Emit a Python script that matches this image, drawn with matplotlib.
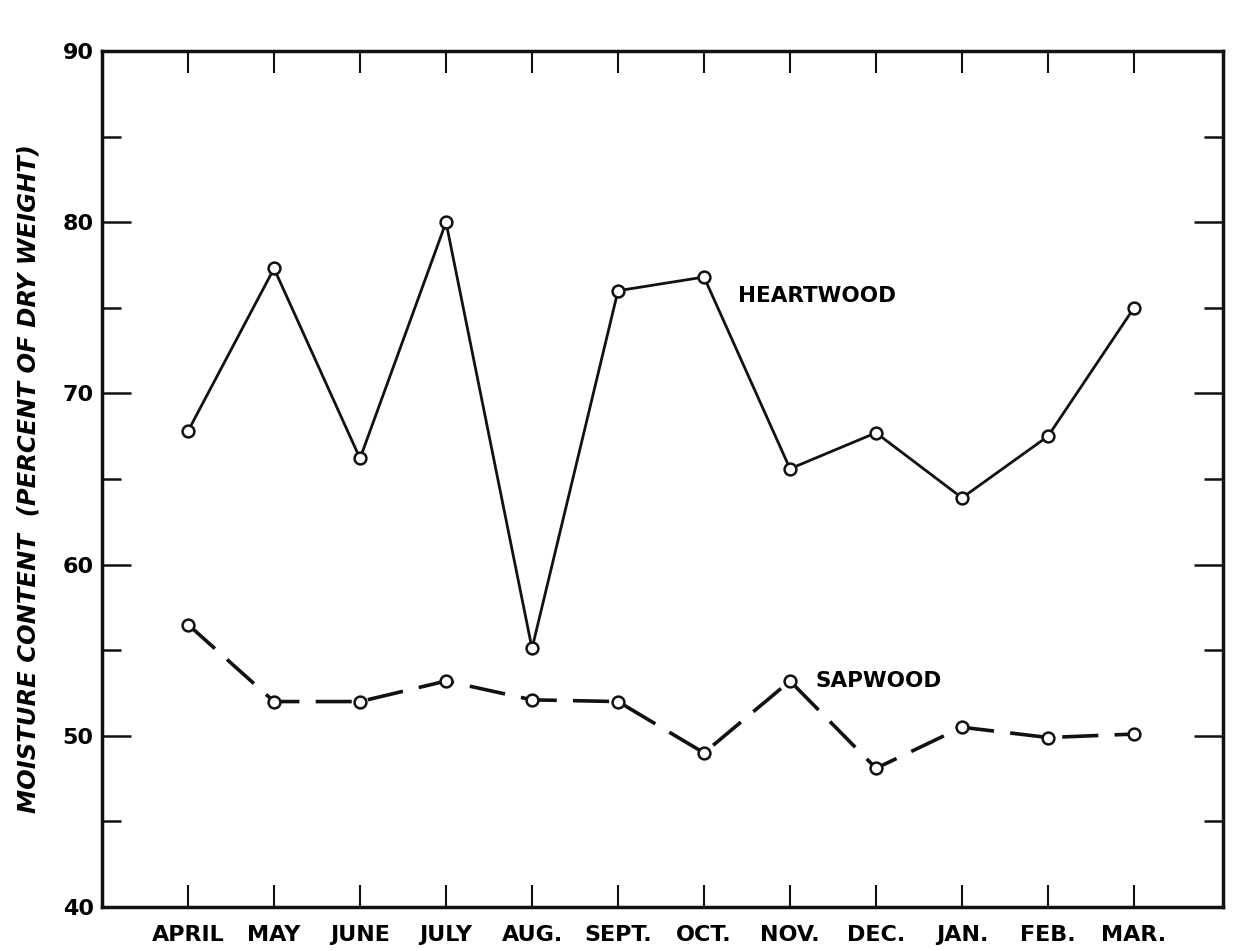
import numpy as np
import matplotlib.pyplot as plt
from matplotlib.ticker import MultipleLocator

# months along the x axis
months = ['APRIL', 'MAY', 'JUNE', 'JULY', 'AUG.', 'SEPT.', 'OCT.',
          'NOV.', 'DEC.', 'JAN.', 'FEB.', 'MAR.']
# moisture content, percent of dry weight
heartwood = [67.8, 77.3, 66.2, 80.0, 55.1, 76.0, 76.8, 65.6, 67.7, 63.9, 67.5, 75.0]
sapwood = [56.5, 52.0, 52.0, 53.2, 52.1, 52.0, 49.0, 53.2, 48.1, 50.5, 49.9, 50.1]

plt.rcParams['font.family'] = ['DejaVu Sans']

fig = plt.figure(figsize=(12.52, 9.51), dpi=100)
ax = fig.add_axes([0.0815, 0.0463, 0.895, 0.9])

x = np.arange(len(months))
ax.plot(x, heartwood, color='#111111', lw=2.0, marker='o', ms=8.5,
        mfc='white', mec='#111111', mew=1.8)
ax.plot(x, sapwood, color='#111111', lw=2.6, dashes=(10, 4.5), marker='o', ms=8.5,
        mfc='white', mec='#111111', mew=1.8)

ax.text(6.4, 75.7, 'HEARTWOOD', fontsize=15.5, fontweight='bold', va='center', ha='left')
ax.text(7.3, 53.2, 'SAPWOOD', fontsize=15.5, fontweight='bold', va='center', ha='left')

ax.set_xlim(-1, 12.03)
ax.set_ylim(40, 90)
ax.set_xticks(x)
ax.set_xticklabels(months, fontsize=16, fontweight='bold')
ax.yaxis.set_major_locator(MultipleLocator(10))
ax.yaxis.set_minor_locator(MultipleLocator(5))
for lab in ax.get_yticklabels():
    lab.set_fontsize(16)
    lab.set_fontweight('bold')

ax.tick_params(axis='x', direction='in', length=16, width=1.5, pad=13,
               top=True, bottom=True, color='#111111')
ax.tick_params(axis='y', which='major', direction='in', length=21, width=1.8,
               pad=6, left=True, right=True, color='#111111')
ax.tick_params(axis='y', which='minor', direction='in', length=14, width=1.8,
               left=True, right=True, color='#111111')
for s in ax.spines.values():
    s.set_linewidth(2.5)
    s.set_color('#111111')

ax.set_ylabel('MOISTURE CONTENT  (PERCENT OF DRY WEIGHT)', fontsize=17.5,
              fontweight='bold', style='italic', labelpad=16)

fig.savefig('out.png', dpi=100)
